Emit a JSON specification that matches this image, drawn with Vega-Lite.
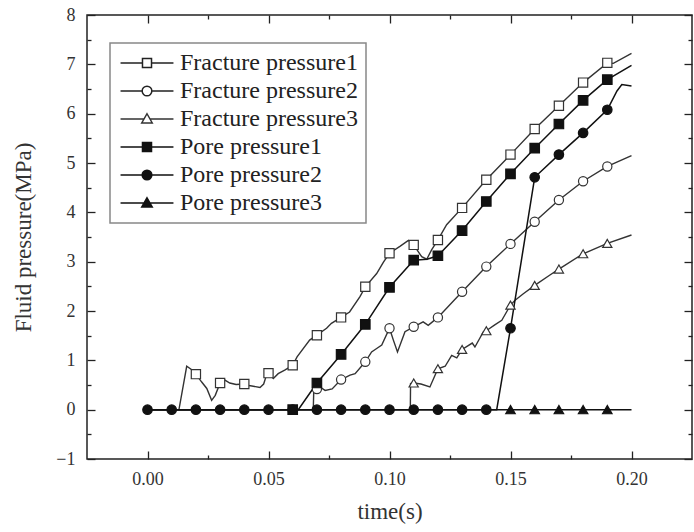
{
  "$schema": "https://vega.github.io/schema/vega-lite/v6.json",
  "width": 605,
  "height": 444,
  "autosize": {"type": "none"},
  "padding": {"left": 87, "top": 15, "right": 2, "bottom": 73},
  "background": "white",
  "data": {
    "values": [
      {"s": "Fracture pressure1", "t": 0, "v": 0, "m": 0},
      {"s": "Fracture pressure1", "t": 0.013, "v": 0, "m": 0},
      {"s": "Fracture pressure1", "t": 0.0162, "v": 0.88, "m": 0},
      {"s": "Fracture pressure1", "t": 0.0183, "v": 0.81, "m": 0},
      {"s": "Fracture pressure1", "t": 0.02, "v": 0.72, "m": 1},
      {"s": "Fracture pressure1", "t": 0.0224, "v": 0.56, "m": 0},
      {"s": "Fracture pressure1", "t": 0.0245, "v": 0.43, "m": 0},
      {"s": "Fracture pressure1", "t": 0.0265, "v": 0.19, "m": 0},
      {"s": "Fracture pressure1", "t": 0.028, "v": 0.29, "m": 0},
      {"s": "Fracture pressure1", "t": 0.03, "v": 0.54, "m": 1},
      {"s": "Fracture pressure1", "t": 0.032, "v": 0.6, "m": 0},
      {"s": "Fracture pressure1", "t": 0.034, "v": 0.54, "m": 0},
      {"s": "Fracture pressure1", "t": 0.0366, "v": 0.51, "m": 0},
      {"s": "Fracture pressure1", "t": 0.04, "v": 0.52, "m": 1},
      {"s": "Fracture pressure1", "t": 0.042, "v": 0.49, "m": 0},
      {"s": "Fracture pressure1", "t": 0.0465, "v": 0.45, "m": 0},
      {"s": "Fracture pressure1", "t": 0.048, "v": 0.52, "m": 0},
      {"s": "Fracture pressure1", "t": 0.0493, "v": 0.72, "m": 0},
      {"s": "Fracture pressure1", "t": 0.05, "v": 0.74, "m": 1},
      {"s": "Fracture pressure1", "t": 0.052, "v": 0.63, "m": 0},
      {"s": "Fracture pressure1", "t": 0.054, "v": 0.73, "m": 0},
      {"s": "Fracture pressure1", "t": 0.0567, "v": 0.8, "m": 0},
      {"s": "Fracture pressure1", "t": 0.06, "v": 0.9, "m": 1},
      {"s": "Fracture pressure1", "t": 0.0618, "v": 1.07, "m": 0},
      {"s": "Fracture pressure1", "t": 0.067, "v": 1.41, "m": 0},
      {"s": "Fracture pressure1", "t": 0.07, "v": 1.51, "m": 1},
      {"s": "Fracture pressure1", "t": 0.074, "v": 1.65, "m": 0},
      {"s": "Fracture pressure1", "t": 0.076, "v": 1.75, "m": 0},
      {"s": "Fracture pressure1", "t": 0.08, "v": 1.87, "m": 1},
      {"s": "Fracture pressure1", "t": 0.0835, "v": 1.98, "m": 0},
      {"s": "Fracture pressure1", "t": 0.0878, "v": 2.29, "m": 0},
      {"s": "Fracture pressure1", "t": 0.09, "v": 2.49, "m": 1},
      {"s": "Fracture pressure1", "t": 0.0947, "v": 2.76, "m": 0},
      {"s": "Fracture pressure1", "t": 0.0975, "v": 2.99, "m": 0},
      {"s": "Fracture pressure1", "t": 0.1, "v": 3.17, "m": 1},
      {"s": "Fracture pressure1", "t": 0.1043, "v": 3.31, "m": 0},
      {"s": "Fracture pressure1", "t": 0.1078, "v": 3.43, "m": 0},
      {"s": "Fracture pressure1", "t": 0.11, "v": 3.34, "m": 1},
      {"s": "Fracture pressure1", "t": 0.1133, "v": 3.1, "m": 0},
      {"s": "Fracture pressure1", "t": 0.1154, "v": 3.05, "m": 0},
      {"s": "Fracture pressure1", "t": 0.1174, "v": 3.24, "m": 0},
      {"s": "Fracture pressure1", "t": 0.12, "v": 3.44, "m": 1},
      {"s": "Fracture pressure1", "t": 0.1236, "v": 3.75, "m": 0},
      {"s": "Fracture pressure1", "t": 0.13, "v": 4.09, "m": 1},
      {"s": "Fracture pressure1", "t": 0.14, "v": 4.66, "m": 1},
      {"s": "Fracture pressure1", "t": 0.15, "v": 5.17, "m": 1},
      {"s": "Fracture pressure1", "t": 0.16, "v": 5.69, "m": 1},
      {"s": "Fracture pressure1", "t": 0.17, "v": 6.16, "m": 1},
      {"s": "Fracture pressure1", "t": 0.18, "v": 6.63, "m": 1},
      {"s": "Fracture pressure1", "t": 0.19, "v": 7.03, "m": 1},
      {"s": "Fracture pressure1", "t": 0.1925, "v": 7.02, "m": 0},
      {"s": "Fracture pressure1", "t": 0.2, "v": 7.22, "m": 0},

      {"s": "Fracture pressure2", "t": 0, "v": 0, "m": 0},
      {"s": "Fracture pressure2", "t": 0.0685, "v": 0, "m": 0},
      {"s": "Fracture pressure2", "t": 0.0687, "v": 0.38, "m": 0},
      {"s": "Fracture pressure2", "t": 0.07, "v": 0.42, "m": 1},
      {"s": "Fracture pressure2", "t": 0.0713, "v": 0.46, "m": 0},
      {"s": "Fracture pressure2", "t": 0.0734, "v": 0.39, "m": 0},
      {"s": "Fracture pressure2", "t": 0.0763, "v": 0.42, "m": 0},
      {"s": "Fracture pressure2", "t": 0.08, "v": 0.61, "m": 1},
      {"s": "Fracture pressure2", "t": 0.0837, "v": 0.7, "m": 0},
      {"s": "Fracture pressure2", "t": 0.0858, "v": 0.73, "m": 0},
      {"s": "Fracture pressure2", "t": 0.09, "v": 0.97, "m": 1},
      {"s": "Fracture pressure2", "t": 0.0926, "v": 1.17, "m": 0},
      {"s": "Fracture pressure2", "t": 0.0947, "v": 1.24, "m": 0},
      {"s": "Fracture pressure2", "t": 0.0968, "v": 1.31, "m": 0},
      {"s": "Fracture pressure2", "t": 0.1, "v": 1.65, "m": 1},
      {"s": "Fracture pressure2", "t": 0.1016, "v": 1.41, "m": 0},
      {"s": "Fracture pressure2", "t": 0.1033, "v": 1.17, "m": 0},
      {"s": "Fracture pressure2", "t": 0.1064, "v": 1.58, "m": 0},
      {"s": "Fracture pressure2", "t": 0.11, "v": 1.68, "m": 1},
      {"s": "Fracture pressure2", "t": 0.1139, "v": 1.78, "m": 0},
      {"s": "Fracture pressure2", "t": 0.116, "v": 1.71, "m": 0},
      {"s": "Fracture pressure2", "t": 0.12, "v": 1.87, "m": 1},
      {"s": "Fracture pressure2", "t": 0.13, "v": 2.39, "m": 1},
      {"s": "Fracture pressure2", "t": 0.14, "v": 2.9, "m": 1},
      {"s": "Fracture pressure2", "t": 0.15, "v": 3.36, "m": 1},
      {"s": "Fracture pressure2", "t": 0.16, "v": 3.81, "m": 1},
      {"s": "Fracture pressure2", "t": 0.17, "v": 4.25, "m": 1},
      {"s": "Fracture pressure2", "t": 0.18, "v": 4.63, "m": 1},
      {"s": "Fracture pressure2", "t": 0.19, "v": 4.93, "m": 1},
      {"s": "Fracture pressure2", "t": 0.2, "v": 5.15, "m": 0},

      {"s": "Fracture pressure3", "t": 0, "v": 0, "m": 0},
      {"s": "Fracture pressure3", "t": 0.1086, "v": 0, "m": 0},
      {"s": "Fracture pressure3", "t": 0.1087, "v": 0.53, "m": 0},
      {"s": "Fracture pressure3", "t": 0.11, "v": 0.54, "m": 1},
      {"s": "Fracture pressure3", "t": 0.113, "v": 0.52, "m": 0},
      {"s": "Fracture pressure3", "t": 0.1167, "v": 0.46, "m": 0},
      {"s": "Fracture pressure3", "t": 0.12, "v": 0.83, "m": 1},
      {"s": "Fracture pressure3", "t": 0.123, "v": 0.88, "m": 0},
      {"s": "Fracture pressure3", "t": 0.1257, "v": 1.1, "m": 0},
      {"s": "Fracture pressure3", "t": 0.1278, "v": 1.05, "m": 0},
      {"s": "Fracture pressure3", "t": 0.13, "v": 1.22, "m": 1},
      {"s": "Fracture pressure3", "t": 0.1342, "v": 1.35, "m": 0},
      {"s": "Fracture pressure3", "t": 0.1353, "v": 1.27, "m": 0},
      {"s": "Fracture pressure3", "t": 0.1388, "v": 1.58, "m": 0},
      {"s": "Fracture pressure3", "t": 0.14, "v": 1.6, "m": 1},
      {"s": "Fracture pressure3", "t": 0.1435, "v": 1.72, "m": 0},
      {"s": "Fracture pressure3", "t": 0.1464, "v": 1.81, "m": 0},
      {"s": "Fracture pressure3", "t": 0.15, "v": 2.12, "m": 1},
      {"s": "Fracture pressure3", "t": 0.1519, "v": 2.22, "m": 0},
      {"s": "Fracture pressure3", "t": 0.1553, "v": 2.35, "m": 0},
      {"s": "Fracture pressure3", "t": 0.16, "v": 2.52, "m": 1},
      {"s": "Fracture pressure3", "t": 0.1663, "v": 2.73, "m": 0},
      {"s": "Fracture pressure3", "t": 0.17, "v": 2.85, "m": 1},
      {"s": "Fracture pressure3", "t": 0.18, "v": 3.16, "m": 1},
      {"s": "Fracture pressure3", "t": 0.19, "v": 3.37, "m": 1},
      {"s": "Fracture pressure3", "t": 0.2, "v": 3.54, "m": 0},

      {"s": "Pore pressure2", "t": 0, "v": 0, "m": 1},
      {"s": "Pore pressure2", "t": 0.01, "v": 0, "m": 1},
      {"s": "Pore pressure2", "t": 0.02, "v": 0, "m": 1},
      {"s": "Pore pressure2", "t": 0.03, "v": 0, "m": 1},
      {"s": "Pore pressure2", "t": 0.04, "v": 0, "m": 1},
      {"s": "Pore pressure2", "t": 0.05, "v": 0, "m": 1},
      {"s": "Pore pressure2", "t": 0.06, "v": 0, "m": 1},
      {"s": "Pore pressure2", "t": 0.07, "v": 0, "m": 1},
      {"s": "Pore pressure2", "t": 0.08, "v": 0, "m": 1},
      {"s": "Pore pressure2", "t": 0.09, "v": 0, "m": 1},
      {"s": "Pore pressure2", "t": 0.1, "v": 0, "m": 1},
      {"s": "Pore pressure2", "t": 0.11, "v": 0, "m": 1},
      {"s": "Pore pressure2", "t": 0.12, "v": 0, "m": 1},
      {"s": "Pore pressure2", "t": 0.13, "v": 0, "m": 1},
      {"s": "Pore pressure2", "t": 0.14, "v": 0, "m": 1},
      {"s": "Pore pressure2", "t": 0.1443, "v": 0, "m": 0},
      {"s": "Pore pressure2", "t": 0.15, "v": 1.65, "m": 1},
      {"s": "Pore pressure2", "t": 0.16, "v": 4.71, "m": 1},
      {"s": "Pore pressure2", "t": 0.17, "v": 5.17, "m": 1},
      {"s": "Pore pressure2", "t": 0.18, "v": 5.61, "m": 1},
      {"s": "Pore pressure2", "t": 0.19, "v": 6.08, "m": 1},
      {"s": "Pore pressure2", "t": 0.194, "v": 6.46, "m": 0},
      {"s": "Pore pressure2", "t": 0.196, "v": 6.59, "m": 0},
      {"s": "Pore pressure2", "t": 0.2, "v": 6.56, "m": 0},

      {"s": "Pore pressure3", "t": 0, "v": 0, "m": 0},
      {"s": "Pore pressure3", "t": 0.15, "v": 0, "m": 1},
      {"s": "Pore pressure3", "t": 0.16, "v": 0, "m": 1},
      {"s": "Pore pressure3", "t": 0.17, "v": 0, "m": 1},
      {"s": "Pore pressure3", "t": 0.18, "v": 0, "m": 1},
      {"s": "Pore pressure3", "t": 0.19, "v": 0, "m": 1},
      {"s": "Pore pressure3", "t": 0.2, "v": 0, "m": 0},

      {"s": "Pore pressure1", "t": 0, "v": 0, "m": 0},
      {"s": "Pore pressure1", "t": 0.06, "v": 0, "m": 1},
      {"s": "Pore pressure1", "t": 0.0623, "v": 0, "m": 0},
      {"s": "Pore pressure1", "t": 0.07, "v": 0.54, "m": 1},
      {"s": "Pore pressure1", "t": 0.08, "v": 1.12, "m": 1},
      {"s": "Pore pressure1", "t": 0.09, "v": 1.73, "m": 1},
      {"s": "Pore pressure1", "t": 0.1, "v": 2.48, "m": 1},
      {"s": "Pore pressure1", "t": 0.11, "v": 3.03, "m": 1},
      {"s": "Pore pressure1", "t": 0.1155, "v": 3.05, "m": 0},
      {"s": "Pore pressure1", "t": 0.12, "v": 3.12, "m": 1},
      {"s": "Pore pressure1", "t": 0.13, "v": 3.63, "m": 1},
      {"s": "Pore pressure1", "t": 0.14, "v": 4.22, "m": 1},
      {"s": "Pore pressure1", "t": 0.15, "v": 4.78, "m": 1},
      {"s": "Pore pressure1", "t": 0.16, "v": 5.3, "m": 1},
      {"s": "Pore pressure1", "t": 0.17, "v": 5.79, "m": 1},
      {"s": "Pore pressure1", "t": 0.18, "v": 6.27, "m": 1},
      {"s": "Pore pressure1", "t": 0.19, "v": 6.69, "m": 1},
      {"s": "Pore pressure1", "t": 0.2, "v": 6.98, "m": 0}
    ]
  },
  "layer": [
    {
      "transform": [{"filter": "indexof(datum.s, 'Fracture') === 0"}],
      "mark": {"type": "line", "strokeWidth": 1.4, "color": "#333", "clip": true},
      "encoding": {
        "x": {"field": "t", "type": "quantitative",
          "scale": {"domain": [-0.025, 0.225], "nice": false, "zero": false},
          "axis": {"orient": "bottom", "values": [0, 0.05, 0.1, 0.15, 0.2], "format": ".2f", "title": "time(s)", "tickSize": -8, "labelPadding": 19, "titlePadding": 12}},
        "y": {"field": "v", "type": "quantitative",
          "scale": {"domain": [-1, 8], "nice": false, "zero": false},
          "axis": {"orient": "left", "values": [-1, 0, 1, 2, 3, 4, 5, 6, 7, 8], "title": "Fluid pressure(MPa)", "tickSize": -8, "labelPadding": 20, "titlePadding": 20}},
        "detail": {"field": "s"}
      }
    },
    {
      "transform": [{"filter": "indexof(datum.s, 'Pore') === 0"}],
      "mark": {"type": "line", "strokeWidth": 1.5, "color": "#111", "clip": true},
      "encoding": {
        "x": {"field": "t", "type": "quantitative",
          "axis": {"orient": "bottom", "values": [0.025, 0.075, 0.125, 0.175], "labels": false, "title": null, "tickSize": -4}},
        "y": {"field": "v", "type": "quantitative",
          "axis": {"orient": "left", "values": [-0.5, 0.5, 1.5, 2.5, 3.5, 4.5, 5.5, 6.5, 7.5], "labels": false, "title": null, "tickSize": -4}},
        "detail": {"field": "s"}
      }
    },
    {
      "transform": [{"filter": "indexof(datum.s, 'Fracture') === 0 && datum.m === 1"}],
      "mark": {"type": "point", "filled": true, "size": 85, "color": "white", "stroke": "#333", "strokeWidth": 1.2, "opacity": 1, "clip": true},
      "encoding": {
        "x": {"field": "t", "type": "quantitative",
          "axis": {"orient": "top", "values": [0, 0.05, 0.1, 0.15, 0.2], "labels": false, "title": null, "tickSize": -8}},
        "y": {"field": "v", "type": "quantitative",
          "axis": {"orient": "right", "values": [-1, 0, 1, 2, 3, 4, 5, 6, 7, 8], "labels": false, "title": null, "tickSize": -8}},
        "shape": {"field": "s", "type": "nominal",
          "scale": {"domain": ["Fracture pressure1", "Fracture pressure2", "Fracture pressure3"],
                    "range": ["square", "circle", "triangle-up"]},
          "legend": null}
      }
    },
    {
      "transform": [{"filter": "indexof(datum.s, 'Pore') === 0 && datum.m === 1"}],
      "mark": {"type": "point", "filled": true, "size": 90, "color": "#111", "stroke": "#111", "strokeWidth": 1.2, "opacity": 1, "clip": true},
      "encoding": {
        "x": {"field": "t", "type": "quantitative",
          "axis": {"orient": "top", "values": [0.025, 0.075, 0.125, 0.175], "labels": false, "title": null, "tickSize": -4}},
        "y": {"field": "v", "type": "quantitative",
          "axis": {"orient": "right", "values": [-0.5, 0.5, 1.5, 2.5, 3.5, 4.5, 5.5, 6.5, 7.5], "labels": false, "title": null, "tickSize": -4}},
        "shape": {"field": "s", "type": "nominal",
          "scale": {"domain": ["Pore pressure1", "Pore pressure2", "Pore pressure3"],
                    "range": ["square", "circle", "triangle-up"]},
          "legend": null}
      }
    },
    {
      "transform": [{"filter": "datum.m === 2"}],
      "mark": {"type": "point", "filled": true, "opacity": 1, "strokeWidth": 1.5},
      "encoding": {
        "shape": {"field": "s", "type": "nominal",
          "scale": {"domain": ["Fracture pressure1", "Fracture pressure2", "Fracture pressure3", "Pore pressure1", "Pore pressure2", "Pore pressure3"],
                    "range": [
                      "M-2.52,0H-0.43M0.43,0H2.52M-0.43,-0.43H0.43V0.43H-0.43Z",
                      "M-2.52,0H-0.46M0.46,0H2.52M-0.46,0A0.46,0.46,0,1,0,0.46,0A0.46,0.46,0,1,0,-0.46,0Z",
                      "M-2.52,0H-0.28M0.28,0H2.52M0,-0.5L0.5,0.38L-0.5,0.38Z",
                      "M-2.52,0H-0.43M0.43,0H2.52M-0.43,-0.43H0.43V0.43H-0.43Z",
                      "M-2.52,0H-0.46M0.46,0H2.52M-0.46,0A0.46,0.46,0,1,0,0.46,0A0.46,0.46,0,1,0,-0.46,0Z",
                      "M-2.52,0H-0.28M0.28,0H2.52M0,-0.5L0.5,0.38L-0.5,0.38Z"
                    ]},
          "legend": {"title": null, "orient": "none", "legendX": 23, "legendY": 28}},
        "fill": {"field": "s", "type": "nominal",
          "scale": {"domain": ["Fracture pressure1", "Fracture pressure2", "Fracture pressure3", "Pore pressure1", "Pore pressure2", "Pore pressure3"],
                    "range": ["white", "white", "white", "#111", "#111", "#111"]},
          "legend": {"title": null, "orient": "none", "legendX": 23, "legendY": 28}},
        "stroke": {"field": "s", "type": "nominal",
          "scale": {"domain": ["Fracture pressure1", "Fracture pressure2", "Fracture pressure3", "Pore pressure1", "Pore pressure2", "Pore pressure3"],
                    "range": ["#222", "#222", "#333", "#111", "#111", "#111"]},
          "legend": {"title": null, "orient": "none", "legendX": 23, "legendY": 28}}
      }
    }
  ],
  "resolve": {"axis": {"x": "independent", "y": "independent"}, "scale": {"shape": "independent", "fill": "independent", "stroke": "independent"}},
  "config": {
    "view": {"stroke": "#222", "strokeWidth": 1.5},
    "axis": {
      "grid": false, "domain": false,
      "tickColor": "#222", "tickWidth": 1.3,
      "labelFont": "Liberation Serif", "labelFontSize": 18, "labelColor": "#333",
      "titleFont": "Liberation Serif", "titleFontSize": 23, "titleFontWeight": "normal", "titleColor": "#333"
    },
    "legend": {
      "labelFont": "Liberation Serif", "labelFontSize": 24, "labelColor": "#222", "labelLimit": 400,
      "symbolSize": 441, "symbolStrokeWidth": 1.5, "symbolOffset": 17,
      "labelOffset": 21, "rowPadding": 4, "padding": 8,
      "strokeColor": "#888", "strokeWidth": 1.5, "fillColor": "white"
    }
  }
}
